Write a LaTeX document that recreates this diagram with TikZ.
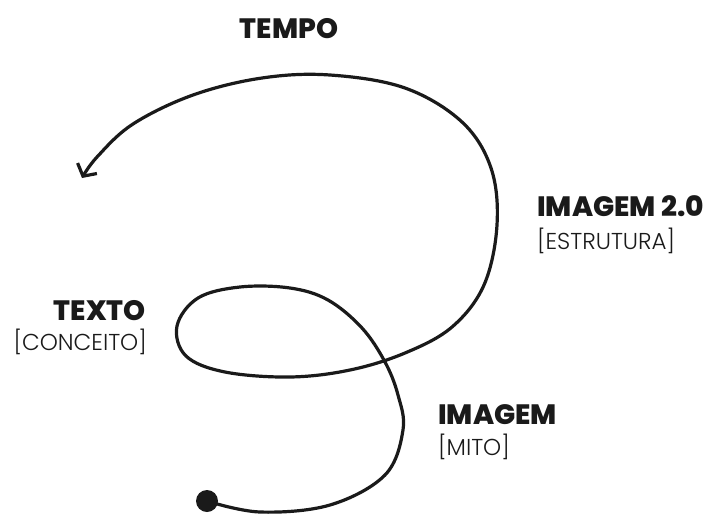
\documentclass[tikz,border=0pt]{standalone}
\usepackage{fontspec}
\setmainfont{Poppins}
\IfFontExistsTF{Poppins Light}{\newfontfamily\plight{Poppins Light}}{\newfontfamily\plight{Poppins}}
\IfFontExistsTF{Poppins ExtraBold}{\newfontfamily\pheavy{Poppins ExtraBold}}{\newfontfamily\pheavy{Poppins Bold}}
\usetikzlibrary{arrows.meta}
\definecolor{ink}{HTML}{1A1A1A}
\tikzset{
  title/.style={font=\fontsize{28}{30}\selectfont\pheavy, text=ink, inner sep=0pt},
  sub/.style={font=\fontsize{23}{26}\selectfont\plight, text=ink, inner sep=0pt},
  spiral/.style={line width=3.2pt, draw=ink, line cap=round},
  dot/.style={circle, fill=ink, minimum size=22pt, inner sep=0pt},
}
\begin{document}
\begin{tikzpicture}[x=1pt,y=-1pt]
\useasboundingbox (0,0) rectangle (705,515);
\node[dot] (start) at (207,501) {};
\coordinate (end) at (82,178);
\draw[spiral, -{Straight Barb[length=9pt,width=22pt]}] plot[smooth, tension=0.6] coordinates {
 (207,501) (260,512) (330,505) (385,475) (403,430) (398,395) (385,362) (362,328) (328,300) (290,288) (240,287) (198,298) (177,326) (186,356) (225,372) (290,377) (350,370) (405,353) (452,327) (484,285) (497,225) (491,168) (462,122) (405,88) (330,75) (262,78) (193,95) (133,124) (97,157) (82,178)};
\node[title, anchor=base] (tempo) at (289,38) {TEMPO};
\node[title, anchor=base west] (img2) at (537,216) {IMAGEM 2.0};
\node[sub, anchor=base west] (estr) at (537,249) {[ESTRUTURA]};
\node[title, anchor=base east] (texto) at (146,320) {TEXTO};
\node[sub, anchor=base east] (conc) at (147,350) {[CONCEITO]};
\node[title, anchor=base west] (img) at (438,424) {IMAGEM};
\node[sub, anchor=base west] (mito) at (438,455) {[MITO]};
\end{tikzpicture}
\end{document}
